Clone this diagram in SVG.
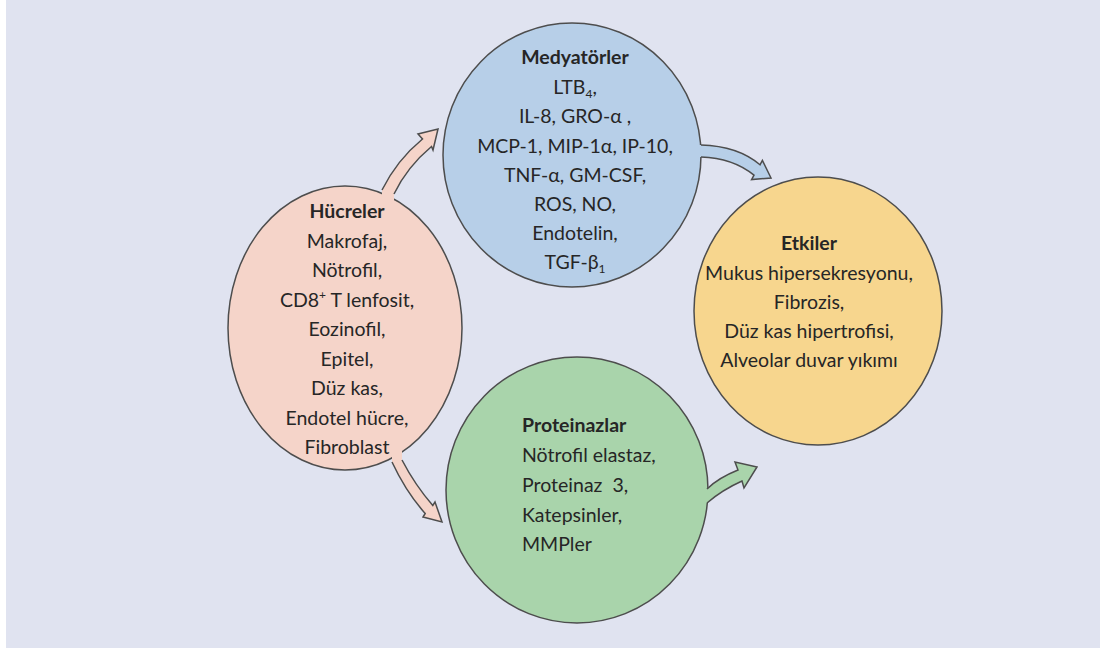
<svg xmlns="http://www.w3.org/2000/svg" width="1103" height="653" viewBox="0 0 1103 653">
<style>
.t{font-family:Lato,"Open Sans","Liberation Sans",sans-serif;font-size:19.5px;fill:#262626}
.b{font-weight:bold}
.c{text-anchor:middle}
.node{stroke:#4d4d4d;stroke-width:1.5}
.af{stroke:none}
.ao{fill:none;stroke:#4d4d4d;stroke-width:1.5;stroke-linejoin:miter}
</style>
<rect x="0" y="0" width="1103" height="653" fill="#ffffff"/>
<rect x="6" y="0" width="1094" height="648" fill="#e0e3f0"/>
<g id="medyatorler">
<ellipse class="node" cx="572" cy="155" rx="129" ry="132" fill="#b7cfe8"/>
<text class="t c" x="575"><tspan class="b" x="575" y="64">Medyatörler</tspan><tspan x="575" y="94">LTB<tspan font-size="12" dy="4">4</tspan><tspan dy="-4">,</tspan></tspan><tspan x="575" y="123">IL-8, GRO-α ,</tspan><tspan x="575" y="153">MCP-1, MIP-1α, IP-10,</tspan><tspan x="575" y="182">TNF-α, GM-CSF,</tspan><tspan x="575" y="211">ROS, NO,</tspan><tspan x="575" y="240">Endotelin,</tspan><tspan x="575" y="269">TGF-β<tspan font-size="12" dy="4">1</tspan></tspan></text>
</g>
<g id="hucreler">
<ellipse class="node" cx="345" cy="328" rx="117" ry="142" fill="#f5d4c9"/>
<text class="t c"><tspan class="b" x="347" y="218">Hücreler</tspan><tspan x="347" y="247.5">Makrofaj,</tspan><tspan x="347" y="277">Nötrofil,</tspan><tspan x="347" y="306.5">CD8<tspan font-size="12" dy="-8">+</tspan><tspan dy="8"> T lenfosit,</tspan></tspan><tspan x="347" y="336">Eozinofil,</tspan><tspan x="347" y="365.5">Epitel,</tspan><tspan x="347" y="395">Düz kas,</tspan><tspan x="347" y="424.5">Endotel hücre,</tspan><tspan x="347" y="454">Fibroblast</tspan></text>
</g>
<g id="etkiler">
<ellipse class="node" cx="818" cy="311" rx="124" ry="134" fill="#f7d68e"/>
<text class="t c"><tspan class="b" x="809" y="250">Etkiler</tspan><tspan x="809" y="280">Mukus hipersekresyonu,</tspan><tspan x="809" y="309">Fibrozis,</tspan><tspan x="809" y="338">Düz kas hipertrofisi,</tspan><tspan x="809" y="367">Alveolar duvar yıkımı</tspan></text>
</g>
<g id="proteinazlar">
<ellipse class="node" cx="577" cy="490" rx="131" ry="133" fill="#a9d4ab"/>
<text class="t" xml:space="preserve"><tspan class="b" x="522" y="432">Proteinazlar</tspan><tspan x="522" y="462">Nötrofil elastaz,</tspan><tspan x="522" y="492">Proteinaz  3,</tspan><tspan x="522" y="522">Katepsinler,</tspan><tspan x="522" y="551">MMPler</tspan></text>
</g>
<g id="connectors">
<path class="af" fill="#f5d4c9" d="M 382,190 Q 397,160 422.5,139 L 418,134 L 438,129 L 433,150 L 431.5,146.5 Q 407,167 394,194 L 394,204 L 382,200 Z"/>
<path class="ao" d="M 382,190 Q 397,160 422.5,139 L 418,134 L 438,129 L 433,150 L 431.5,146.5 Q 407,167 394,194"/>
<path class="af" fill="#b7cfe8" d="M 701,145 Q 738,146 760,164.8 L 762.4,160.4 L 771,178 L 751.6,179.6 L 754,175.2 Q 733,158 701,157 L 692,157 L 692,145 Z"/>
<path class="ao" d="M 701,145 Q 738,146 760,164.8 L 762.4,160.4 L 771,178 L 751.6,179.6 L 754,175.2 Q 733,158 701,157"/>
<path class="af" fill="#f5d4c9" d="M 392,462 Q 406,492 425.2,513.5 L 423,517 L 442,522 L 435,502 L 432.8,505.5 Q 415,485 402,460 L 402,450 L 392,452 Z"/>
<path class="ao" d="M 392,462 Q 406,492 425.2,513.5 L 423,517 L 442,522 L 435,502 L 432.8,505.5 Q 415,485 402,460"/>
<path class="af" fill="#a9d4ab" d="M 707,489 Q 718,478 738,470 L 735,462 L 757,467 L 744,488 L 742,481 Q 722,490 707,503 L 698,503 L 698,489 Z"/>
<path class="ao" d="M 707,489 Q 718,478 738,470 L 735,462 L 757,467 L 744,488 L 742,481 Q 722,490 707,503"/>
</g>
</svg>
